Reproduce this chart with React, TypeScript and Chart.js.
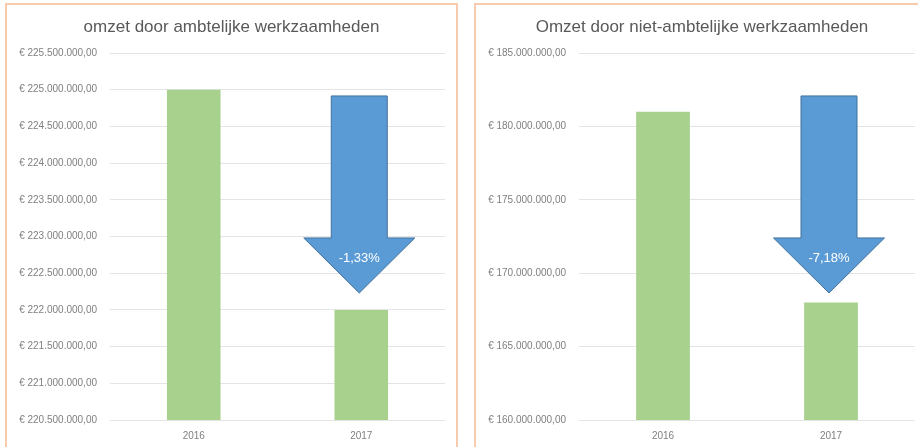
import React, { useEffect, useRef } from "react";
import { Chart, registerables } from "chart.js";

Chart.register(...registerables);

// ---- data ----
const years = ["2016", "2017"];
const ambtelijkValues = [225000000, 222000000];
const nietAmbtelijkValues = [181000000, 168000000];
const titles = ["omzet door ambtelijke werkzaamheden", "Omzet door niet-ambtelijke werkzaamheden"];
const changeLabels = ["-1,33%", "-7,18%"];
const ambtelijkAxis = [220500000, 225500000, 500000]; // min, max, step
const nietAmbtelijkAxis = [160000000, 185000000, 5000000];

// ---- styles ----
const FONT = "'Liberation Sans', Arial, sans-serif";
const BAR_GREEN = "#A9D18E";
const ARROW_BLUE = "#5B9BD5";
const ARROW_EDGE = "#41719C";
const GRID = "#E4E4E4";
const TICK = "#7F7F7F";
const TITLE = "#595959";
const PANEL_BORDER = "#F8CBAD";

function euro(v: number): string {
  const s = Math.round(v).toString().replace(/\B(?=(\d{3})+(?!\d))/g, ".");
  return "€ " + s + ",00";
}

const arrowPlugin = {
  id: "downArrow",
  afterDatasetsDraw(chart: any, _args: any, opts: any) {
    const { ctx, chartArea: a } = chart;
    const xs = chart.scales.x;
    const cx = xs.getPixelForValue(1) - 2;
    const h = a.bottom - a.top;
    const top = a.top + h * 0.117;
    const neck = a.top + h * 0.504;
    const tip = a.top + h * 0.654;
    const sw = 28;
    const hw = 55.5;
    ctx.save();
    ctx.beginPath();
    ctx.moveTo(cx - sw, top);
    ctx.lineTo(cx + sw, top);
    ctx.lineTo(cx + sw, neck);
    ctx.lineTo(cx + hw, neck);
    ctx.lineTo(cx, tip);
    ctx.lineTo(cx - hw, neck);
    ctx.lineTo(cx - sw, neck);
    ctx.closePath();
    ctx.fillStyle = ARROW_BLUE;
    ctx.fill();
    ctx.lineWidth = 1;
    ctx.strokeStyle = ARROW_EDGE;
    ctx.stroke();
    ctx.fillStyle = "#FFFFFF";
    ctx.font = "13px " + FONT;
    ctx.textAlign = "center";
    ctx.textBaseline = "middle";
    ctx.fillText(opts.label, cx, neck + 20);
    ctx.restore();
  },
};

function Panel(props: {
  left: number;
  width: number;
  canvasWidth: number;
  rightGap: number;
  title: string;
  values: number[];
  axis: number[];
  change: string;
}) {
  const ref = useRef<HTMLCanvasElement | null>(null);
  useEffect(() => {
    if (!ref.current) return;
    const chart = new Chart(ref.current, {
      type: "bar",
      data: {
        labels: years,
        datasets: [
          {
            data: props.values,
            backgroundColor: BAR_GREEN,
            borderWidth: 0,
            barPercentage: 0.32,
            categoryPercentage: 1,
          },
        ],
      },
      options: {
        animation: false,
        responsive: false,
        devicePixelRatio: 1,
        layout: { padding: 0 },
        plugins: {
          legend: { display: false },
          tooltip: { enabled: false },
          title: {
            display: true,
            text: props.title,
            color: TITLE,
            font: { family: FONT, size: 17, weight: "normal" },
            padding: { top: 12, bottom: 15.6 },
          },
          downArrow: { label: props.change },
        } as any,
        scales: {
          x: {
            grid: { display: false, drawTicks: false },
            border: { display: false },
            ticks: { color: TICK, font: { family: FONT, size: 10 }, padding: 10 },
            afterFit: (s: any) => {
              s.height = 27;
            },
          },
          y: {
            min: props.axis[0],
            max: props.axis[1],
            grid: { color: GRID, lineWidth: 1, drawTicks: false },
            border: { display: false },
            ticks: {
              stepSize: props.axis[2],
              color: TICK,
              font: { family: FONT, size: 10 },
              padding: 13,
              callback: (v: any) => euro(Number(v)),
            },
            afterFit: (s: any) => {
              s.width = 103;
            },
          },
          gap: {
            type: "linear",
            axis: "y",
            position: "right",
            display: true,
            grid: { display: false, drawTicks: false },
            border: { display: false },
            ticks: { display: false },
            afterFit: (s: any) => {
              s.width = props.rightGap;
            },
          },
        } as any,
      },
      plugins: [arrowPlugin],
    });
    return () => chart.destroy();
  }, []);
  return (
    <div
      style={{
        position: "absolute",
        left: props.left,
        top: 3,
        width: props.width,
        height: 460,
        border: "2px solid " + PANEL_BORDER,
        boxSizing: "content-box",
        background: "#FFFFFF",
      }}
    >
      <canvas
        ref={ref}
        width={props.canvasWidth}
        height={442}
        style={{ position: "absolute", left: 0, top: 0, width: props.canvasWidth, height: 442 }}
      />
    </div>
  );
}

export default function App() {
  return (
    <div
      style={{
        position: "fixed",
        left: 0,
        top: 0,
        width: 918,
        height: 447,
        overflow: "hidden",
        background: "#FFFFFF",
      }}
    >
      <Panel
        left={5}
        width={449}
        canvasWidth={449}
        rightGap={11}
        title={titles[0]}
        values={ambtelijkValues}
        axis={ambtelijkAxis}
        change={changeLabels[0]}
      />
      <Panel
        left={474}
        width={460}
        canvasWidth={452}
        rightGap={13}
        title={titles[1]}
        values={nietAmbtelijkValues}
        axis={nietAmbtelijkAxis}
        change={changeLabels[1]}
      />
    </div>
  );
}
